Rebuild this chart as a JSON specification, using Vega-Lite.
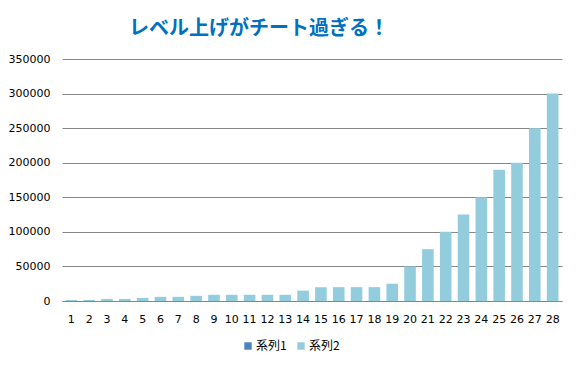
{
  "$schema": "https://vega.github.io/schema/vega-lite/v6.json",
  "width": 500,
  "height": 242,
  "autosize": {"type": "none"},
  "padding": {"left": 62, "top": 59, "right": 16, "bottom": 68},
  "background": "white",
  "title": {
    "text": "レベル上げがチート過ぎる！",
    "font": "Noto Sans CJK JP",
    "fontSize": 20,
    "fontWeight": "bold",
    "color": "#0070C0",
    "anchor": "middle",
    "dx": -53,
    "offset": 14
  },
  "data": {
    "values": [
      {"level": 1, "series": "系列2", "exp": 1500},
      {"level": 2, "series": "系列2", "exp": 1500},
      {"level": 3, "series": "系列2", "exp": 3000},
      {"level": 4, "series": "系列2", "exp": 3000},
      {"level": 5, "series": "系列2", "exp": 4500},
      {"level": 6, "series": "系列2", "exp": 6000},
      {"level": 7, "series": "系列2", "exp": 6000},
      {"level": 8, "series": "系列2", "exp": 7500},
      {"level": 9, "series": "系列2", "exp": 9000},
      {"level": 10, "series": "系列2", "exp": 9000},
      {"level": 11, "series": "系列2", "exp": 9000},
      {"level": 12, "series": "系列2", "exp": 9000},
      {"level": 13, "series": "系列2", "exp": 9000},
      {"level": 14, "series": "系列2", "exp": 15000},
      {"level": 15, "series": "系列2", "exp": 20000},
      {"level": 16, "series": "系列2", "exp": 20000},
      {"level": 17, "series": "系列2", "exp": 20000},
      {"level": 18, "series": "系列2", "exp": 20000},
      {"level": 19, "series": "系列2", "exp": 25000},
      {"level": 20, "series": "系列2", "exp": 50000},
      {"level": 21, "series": "系列2", "exp": 75000},
      {"level": 22, "series": "系列2", "exp": 100000},
      {"level": 23, "series": "系列2", "exp": 125000},
      {"level": 24, "series": "系列2", "exp": 150000},
      {"level": 25, "series": "系列2", "exp": 190000},
      {"level": 26, "series": "系列2", "exp": 200000},
      {"level": 27, "series": "系列2", "exp": 250000},
      {"level": 28, "series": "系列2", "exp": 300000}
    ]
  },
  "mark": {"type": "bar"},
  "encoding": {
    "x": {
      "field": "level",
      "type": "ordinal",
      "scale": {"paddingInner": 0.35, "paddingOuter": 0.2},
      "axis": {
        "title": null,
        "labelAngle": 0,
        "ticks": false,
        "domainColor": "#868686",
        "labelFont": "DejaVu Sans",
        "labelFontSize": 11,
        "labelColor": "#000000",
        "labelPadding": 12
      }
    },
    "y": {
      "field": "exp",
      "type": "quantitative",
      "scale": {"domain": [0, 350000], "nice": false},
      "axis": {
        "title": null,
        "values": [0, 50000, 100000, 150000, 200000, 250000, 300000, 350000],
        "format": "d",
        "labelOverlap": false,
        "domain": false,
        "ticks": false,
        "gridColor": "#868686",
        "gridOpacity": 1,
        "labelFont": "DejaVu Sans",
        "labelFontSize": 11,
        "labelColor": "#000000",
        "labelPadding": 12
      }
    },
    "color": {
      "field": "series",
      "type": "nominal",
      "scale": {"domain": ["系列1", "系列2"], "range": ["#4F81BD", "#93CDDD"]},
      "legend": {
        "title": null,
        "orient": "none",
        "direction": "horizontal",
        "legendX": 180,
        "legendY": 281,
        "symbolType": "square",
        "symbolSize": 55,
        "symbolStrokeWidth": 0,
        "labelFont": "Noto Sans CJK JP",
        "labelFontSize": 12,
        "labelColor": "#000000",
        "labelOffset": 2,
        "columnPadding": 8
      }
    }
  },
  "config": {
    "view": {"stroke": null}
  }
}
